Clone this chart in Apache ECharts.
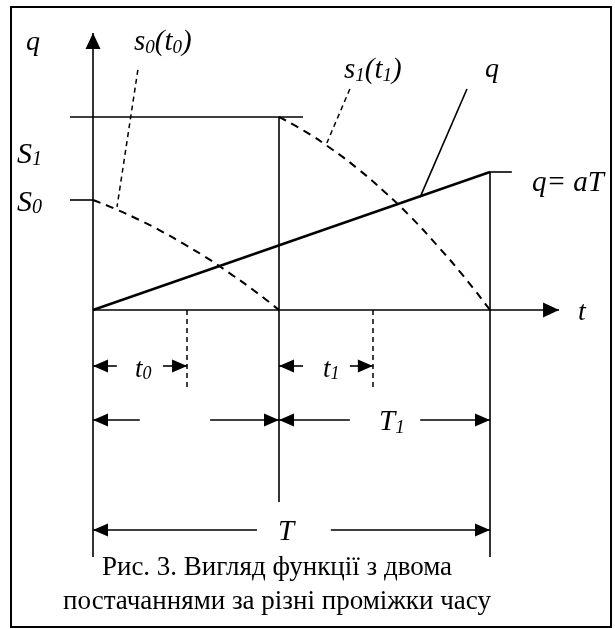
<!DOCTYPE html>
<html>
<head>
<meta charset="utf-8">
<script src="https://cdn.jsdelivr.net/npm/echarts@6/dist/echarts.min.js"></script>
<style>
  html, body { margin: 0; padding: 0; background: #fff; }
  #chart { width: 615px; height: 629px; }
</style>
</head>
<body>
<div id="chart"></div>
<script>
// units: t = 0..100 is the whole period T, q: S1 = 100
var T0 = 46.85;        // first delivery ends here (T - T1)
var T_END = 100;
var S1 = 100;
var S0 = 57;
var Q_END = 71.5;      // q = aT
var T0_MARK = 23.7;    // t0
var T1_MARK = 70.5;    // t1

// dashed stock curves
var s0Curve = [[0, 57], [5.9, 52.1], [11.7, 46.6], [17.6, 40.4], [23.4, 33.6], [29.3, 26.2], [35.1, 18.1], [41, 9.4], [46.85, 0]];
var s1Curve = [[46.85, 100], [53.5, 92.4], [60.1, 83.4], [66.8, 73.0], [73.4, 61.3], [80.1, 48.1], [86.7, 33.4], [93.4, 17.4], [100, 0]];
var qLine = [[0, 0], [T_END, Q_END]];

// dimension rows under the axis (y in same units, negative = below t axis)
var rowT0 = -29, rowT1 = -57, rowT = -114;

var solidSegs = [
  [[-5.8, S1], [52.9, S1]],             // S1 level
  [[-5.8, S0], [0, S0]],                // S0 tick
  [[T0, S1], [T0, -99.5]],              // middle vertical
  [[T_END, Q_END], [T_END, -128]],      // right vertical
  [[T_END, Q_END], [105.5, Q_END]],     // q = aT tick
  [[94.2, 114.5], [82.4, 58.5]]         // leader to q
];

var dashSegs = [
  [[T0_MARK, 0], [T0_MARK, -39.9]],
  [[T1_MARK, 0], [T1_MARK, -39.9]],
  [[11.3, 124.4], [6.05, 53.4]],        // leader s0(t0)
  [[64.7, 114.5], [58.9, 86.5]]         // leader s1(t1)
];

var axisArrows = [
  [[0, 0], [117.4, 0]],
  [[0, -128], [0, 143.5]]
];

var dimArrows = [
  [[6.0, rowT0], [0, rowT0]],
  [[17.6, rowT0], [T0_MARK, rowT0]],
  [[52.9, rowT0], [T0, rowT0]],
  [[64.7, rowT0], [T1_MARK, rowT0]],
  [[11.8, rowT1], [0, rowT1]],
  [[29.5, rowT1], [T0, rowT1]],
  [[64.7, rowT1], [T0, rowT1]],
  [[82.4, rowT1], [T_END, rowT1]],
  [[41.3, rowT], [0, rowT]],
  [[59.9, rowT], [T_END, rowT]]
];

function toLines(arr) {
  var out = [];
  for (var i = 0; i < arr.length; i++) {
    out.push({ coords: arr[i] });
  }
  return out;
}

// solid arrow head, tip sits in the middle of the box so it ends right on the point
function headPath(len, half) {
  return 'path://M' + (-len) + ',' + (-len) + ' M' + len + ',' + len +
    ' M0,0 L' + half + ',' + len + ' L' + (-half) + ',' + len + ' Z';
}

var serif = 'Liberation Serif';

// italic label with a subscript, e.g. S1
function subText(x, y, main, sub, size, tail) {
  var txt = '{m|' + main + '}{s|' + sub + '}';
  if (tail) txt += tail;
  return {
    type: 'text',
    x: x,
    y: y,
    style: {
      text: txt,
      fill: '#000',
      verticalAlign: 'middle',
      rich: {
        m: { fontFamily: serif, fontStyle: 'italic', fontSize: size, lineHeight: 30, verticalAlign: 'bottom' },
        s: { fontFamily: serif, fontStyle: 'italic', fontSize: Math.round(size * 0.66), lineHeight: 12, verticalAlign: 'bottom' },
        p: { fontFamily: serif, fontStyle: 'italic', fontSize: size, lineHeight: 30, verticalAlign: 'bottom' }
      }
    }
  };
}

function plainText(x, y, str, size, italic, align) {
  return {
    type: 'text',
    x: x,
    y: y,
    style: {
      text: str,
      fill: '#000',
      fontFamily: serif,
      fontStyle: italic ? 'italic' : 'normal',
      fontSize: size,
      align: align || 'left',
      verticalAlign: 'middle'
    }
  };
}

var chart = echarts.init(document.getElementById('chart'), null, { renderer: 'canvas' });

var option = {
  animation: false,
  grid: { left: 93, top: 117, width: 397, height: 193 },
  xAxis: { type: 'value', min: 0, max: 100, show: false },
  yAxis: { type: 'value', min: 0, max: 100, show: false },
  graphic: [
    { type: 'rect', shape: { x: 11, y: 7, width: 600, height: 620 }, style: { fill: 'none', stroke: '#000', lineWidth: 2 } },
    plainText(26, 43, 'q', 28, true),
    subText(134, 42, 's', '0', 29, '{p|(}{m|t}{s|0}{p|)}'),
    subText(344, 70, 's', '1', 29, '{p|(}{m|t}{s|1}{p|)}'),
    plainText(485, 70, 'q', 28, true),
    plainText(532, 183, 'q= aT', 29, true),
    subText(17, 155, 'S', '1', 30),
    subText(17, 203, 'S', '0', 30),
    plainText(578, 313, 't', 28, true),
    subText(135, 368, 't', '0', 27),
    subText(323, 368, 't', '1', 27),
    subText(379, 422, 'T', '1', 29),
    plainText(286, 532, 'T', 29, true, 'center'),
    plainText(277, 568, 'Рис. 3. Вигляд функції з двома', 27, false, 'center'),
    plainText(277, 602, 'постачаннями за різні проміжки часу', 27, false, 'center')
  ],
  series: [
    {
      type: 'lines',
      coordinateSystem: 'cartesian2d',
      clip: false,
      silent: true,
      lineStyle: { color: '#000', width: 1.6, opacity: 1 },
      data: toLines(solidSegs)
    },
    {
      type: 'lines',
      coordinateSystem: 'cartesian2d',
      clip: false,
      silent: true,
      lineStyle: { color: '#000', width: 1.5, type: [5, 4], opacity: 1 },
      data: toLines(dashSegs)
    },
    {
      type: 'lines',
      coordinateSystem: 'cartesian2d',
      clip: false,
      silent: true,
      symbol: ['none', headPath(16, 7.5)],
      symbolSize: 32,
      lineStyle: { color: '#000', width: 1.6, opacity: 1 },
      data: toLines(axisArrows)
    },
    {
      type: 'lines',
      coordinateSystem: 'cartesian2d',
      clip: false,
      silent: true,
      symbol: ['none', headPath(15, 6.5)],
      symbolSize: 30,
      lineStyle: { color: '#000', width: 1.6, opacity: 1 },
      data: toLines(dimArrows)
    },
    {
      name: 'q',
      type: 'line',
      clip: false,
      showSymbol: false,
      lineStyle: { color: '#000', width: 2.4 },
      data: qLine
    },
    {
      name: 's0',
      type: 'line',
      clip: false,
      smooth: true,
      showSymbol: false,
      lineStyle: { color: '#000', width: 2, type: [8, 6] },
      data: s0Curve
    },
    {
      name: 's1',
      type: 'line',
      clip: false,
      smooth: true,
      showSymbol: false,
      lineStyle: { color: '#000', width: 2, type: [8, 6] },
      data: s1Curve
    }
  ]
};

chart.setOption(option);
</script>
</body>
</html>
